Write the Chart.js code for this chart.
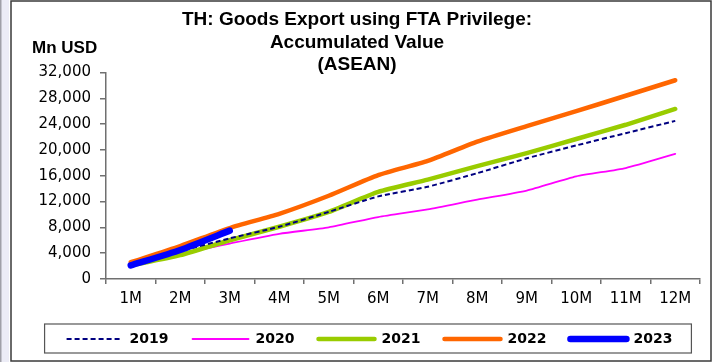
<!DOCTYPE html>
<html>
<head>
<meta charset="utf-8">
<script src="https://cdn.jsdelivr.net/npm/chart.js@4"></script>
<style>
  html, body { margin: 0; padding: 0; background: #fff; }
  #wrap { width: 712px; height: 362px; position: relative; }
</style>
</head>
<body>
<div id="wrap"><canvas id="chartFta"></canvas></div>
<script>
// months and accumulated values (Mn USD)
const meses = ['1M', '2M', '3M', '4M', '5M', '6M', '7M', '8M', '9M', '10M', '11M', '12M'];
const v2019 = [2100, 4300, 6300, 8100, 10400, 12800, 14300, 16400, 18700, 20700, 22600, 24500];
const v2020 = [2000, 3900, 5500, 7000, 8000, 9600, 10800, 12300, 13700, 15900, 17200, 19400];
const v2021 = [2100, 3700, 6000, 8100, 10400, 13500, 15400, 17500, 19500, 21700, 23900, 26350];
const v2022 = [2600, 5100, 7900, 10100, 12900, 16100, 18300, 21300, 23700, 26000, 28400, 30800];
const v2023 = [2100, 4500, 7500];
const yTicks = [0, 4000, 8000, 12000, 16000, 20000, 24000, 28000, 32000];
const titulo = ['TH: Goods Export using FTA Privilege:', 'Accumulated Value', '(ASEAN)'];

const moldura = {
  id: 'moldura',
  beforeDraw(chart) {
    const ctx = chart.ctx;
    ctx.save();
    ctx.fillStyle = '#fff';
    ctx.fillRect(0, 0, chart.width, chart.height);
    ctx.fillStyle = '#ececf6';
    ctx.fillRect(0, 0, 9, chart.height);
    ctx.fillStyle = '#a0a0a8';
    ctx.fillRect(0, 0, 1.5, chart.height);
    ctx.strokeStyle = '#3a3a3a';
    ctx.lineWidth = 1.5;
    ctx.strokeRect(11, 1, chart.width - 12, chart.height - 2);
    ctx.restore();
  },
  afterDraw(chart) {
    const ctx = chart.ctx;
    ctx.save();
    ctx.fillStyle = '#000';
    ctx.textBaseline = 'middle';
    ctx.textAlign = 'center';
    ctx.font = 'bold 19px "Liberation Sans", Arial';
    titulo.forEach((t, i) => ctx.fillText(t, 357, 20 + i * 22.5));
    ctx.textAlign = 'left';
    ctx.font = 'bold 17px "Liberation Sans", Arial';
    ctx.fillText('Mn USD', 32, 48);

    // box round the legend
    const caixas = chart.legend.legendHitBoxes;
    if (caixas && caixas.length) {
      const x0 = caixas[0].left;
      const ult = caixas[caixas.length - 1];
      const cy = caixas[0].top + caixas[0].height / 2;
      ctx.strokeStyle = '#555';
      ctx.lineWidth = 1.2;
      ctx.strokeRect(x0 - 22, cy - 15, (ult.left + ult.width + 19) - (x0 - 22), 29);
    }
    ctx.restore();
  }
};

const serie = (label, data, cor, largura, extra) => Object.assign({
  label, data,
  borderColor: cor,
  backgroundColor: cor,
  borderWidth: largura,
  pointRadius: 0,
  tension: 0.2,
  borderCapStyle: 'round',
  borderJoinStyle: 'round',
  fill: false
}, extra || {});

Chart.defaults.font.family = '"DejaVu Sans", Verdana, sans-serif';
Chart.defaults.color = '#000';

new Chart(document.getElementById('chartFta'), {
  type: 'line',
  data: {
    labels: meses,
    datasets: [
      serie('2019', v2019, '#000080', 2, { borderDash: [5, 3], borderCapStyle: 'butt', order: 2 }),
      serie('2020', v2020, '#ff00ff', 1.8, { order: 5 }),
      serie('2021', v2021, '#99cc00', 4.5, { order: 4 }),
      serie('2022', v2022, '#ff6600', 4.5, { order: 3 }),
      serie('2023', v2023, '#0000ff', 6.5, { order: 1 })
    ]
  },
  options: {
    responsive: true,
    maintainAspectRatio: false,
    devicePixelRatio: 1,
    animation: false,
    layout: { padding: { left: 39, right: 12, top: 72.5, bottom: 6 } },
    plugins: {
      title: { display: false },
      tooltip: { enabled: false },
      legend: {
        position: 'bottom',
        align: 'center',
        labels: {
          usePointStyle: true,
          pointStyle: 'line',
          pointStyleWidth: 56,
          padding: 24,
          color: '#000',
          font: { size: 14, weight: 'bold' },
          sort: (a, b) => a.datasetIndex - b.datasetIndex,
          generateLabels: chart => chart.data.datasets.map((ds, i) => ({
            text: ds.label,
            datasetIndex: i,
            fillStyle: ds.borderColor,
            strokeStyle: ds.borderColor,
            fontColor: '#000',
            lineWidth: ds.borderWidth,
            lineDash: ds.borderDash || [],
            lineCap: ds.borderCapStyle,
            pointStyle: 'line',
            hidden: false
          }))
        }
      }
    },
    scales: {
      x: {
        offset: true,
        afterFit: s => { s.height = 29; },
        grid: { offset: true, drawOnChartArea: false, tickLength: 5, color: '#707070', lineWidth: 1.5 },
        border: { color: '#707070', width: 1.5 },
        ticks: { font: { size: 15 }, padding: 6, color: '#000', maxRotation: 0 }
      },
      y: {
        min: 0,
        max: 32000,
        afterFit: s => { s.width = 67; },
        afterBuildTicks: s => { s.ticks = yTicks.map(v => ({ value: v })); },
        grid: { drawOnChartArea: false, tickLength: 6, color: '#707070', lineWidth: 1.5 },
        border: { color: '#707070', width: 1.5 },
        ticks: {
          font: { size: 15 },
          padding: 9,
          color: '#000',
          callback: v => v.toLocaleString('en-US')
        }
      }
    }
  },
  plugins: [moldura]
});
</script>
</body>
</html>
